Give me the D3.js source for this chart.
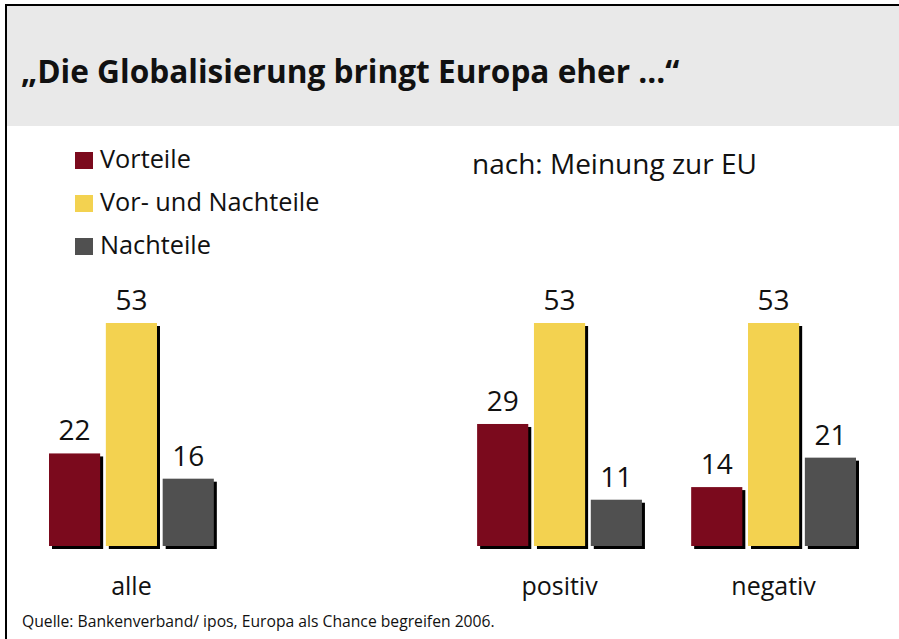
<!DOCTYPE html>
<html>
<head>
<meta charset="utf-8">
<script src="https://cdn.jsdelivr.net/npm/d3@7"></script>
<style>
  html, body { margin: 0; padding: 0; background: #fff; }
  svg { display: block; }
  text { font-family: "Open Sans", "Noto Sans", sans-serif; fill: #111; }
</style>
</head>
<body>
<svg id="chart" width="899" height="639"></svg>
<script>
// Survey groups (a spacer slot separates the total from the EU-opinion breakdown)
const groups = ["alle", "spacer", "positiv", "negativ"];
const groupLabels = ["alle", "", "positiv", "negativ"];
const series = ["Vorteile", "Vor- und Nachteile", "Nachteile"];
const colors = ["#7b0a1d", "#f3d250", "#505050"];

const vorteile = [22, null, 29, 14];
const beides = [53, null, 53, 53];
const nachteile = [16, null, 11, 21];

const title = "„Die Globalisierung bringt Europa eher ...“";
const subtitle = "nach: Meinung zur EU";
const source = "Quelle: Bankenverband/ ipos, Europa als Chance begreifen 2006.";

const W = 899, H = 639;
const svg = d3.select("#chart");

// Header band and frame
svg.append("rect").attr("x", 5).attr("y", 5).attr("width", W - 5).attr("height", 121)
  .attr("fill", "#e9e9e9");
svg.append("line").attr("x1", 5).attr("x2", W).attr("y1", 5).attr("y2", 5)
  .attr("stroke", "#000").attr("stroke-width", 2);
svg.append("line").attr("x1", 6).attr("x2", 6).attr("y1", 4).attr("y2", H)
  .attr("stroke", "#000").attr("stroke-width", 2);

svg.append("text").attr("x", 21).attr("y", 83)
  .attr("font-size", 31.6).attr("font-weight", "bold")
  .text(title);

// Scales
const baseline = 546;
const y = d3.scaleLinear().domain([0, 53]).range([baseline, 323]);
const x0 = d3.scaleBand().domain(groups).range([49, 856]).paddingInner(0.23).paddingOuter(0);
const x1 = d3.scaleBand().domain(series).range([0, x0.bandwidth()]).paddingInner(0.1);
const color = d3.scaleOrdinal().domain(series).range(colors);

const rows = groups.map((g, i) => ({
  group: g,
  label: groupLabels[i],
  values: [vorteile[i], beides[i], nachteile[i]]
}));

const gGroups = svg.append("g").selectAll("g")
  .data(rows.filter(r => r.values[0] !== null))
  .join("g")
  .attr("transform", d => `translate(${x0(d.group)},0)`);

const bars = gGroups.selectAll("g.bar")
  .data(d => d.values.map((v, j) => ({ key: series[j], value: v })))
  .join("g").attr("class", "bar");

// drop shadow
bars.append("rect")
  .attr("x", d => x1(d.key) + 3)
  .attr("y", d => y(d.value) + 3)
  .attr("width", x1.bandwidth())
  .attr("height", d => baseline - y(d.value))
  .attr("fill", "#000");

bars.append("rect")
  .attr("x", d => x1(d.key))
  .attr("y", d => y(d.value))
  .attr("width", x1.bandwidth())
  .attr("height", d => baseline - y(d.value))
  .attr("fill", d => color(d.key));

bars.append("text")
  .attr("x", d => x1(d.key) + x1.bandwidth() / 2)
  .attr("y", d => y(d.value) - 13)
  .attr("text-anchor", "middle")
  .attr("font-size", 28)
  .text(d => d.value);

gGroups.append("text")
  .attr("x", x0.bandwidth() / 2)
  .attr("y", 595)
  .attr("text-anchor", "middle")
  .attr("font-size", 25)
  .text(d => d.label);

// Legend
const legend = svg.append("g").selectAll("g")
  .data(series)
  .join("g")
  .attr("transform", (d, i) => `translate(75,${152 + i * 43})`);
legend.append("rect").attr("width", 18).attr("height", 17).attr("fill", d => color(d));
legend.append("text").attr("x", 25).attr("y", 16).attr("font-size", 25.3).text(d => d);

svg.append("text").attr("x", 472).attr("y", 174).attr("font-size", 28).text(subtitle);

svg.append("text").attr("x", 22).attr("y", 627).attr("font-size", 15.7).text(source);
</script>
</body>
</html>
